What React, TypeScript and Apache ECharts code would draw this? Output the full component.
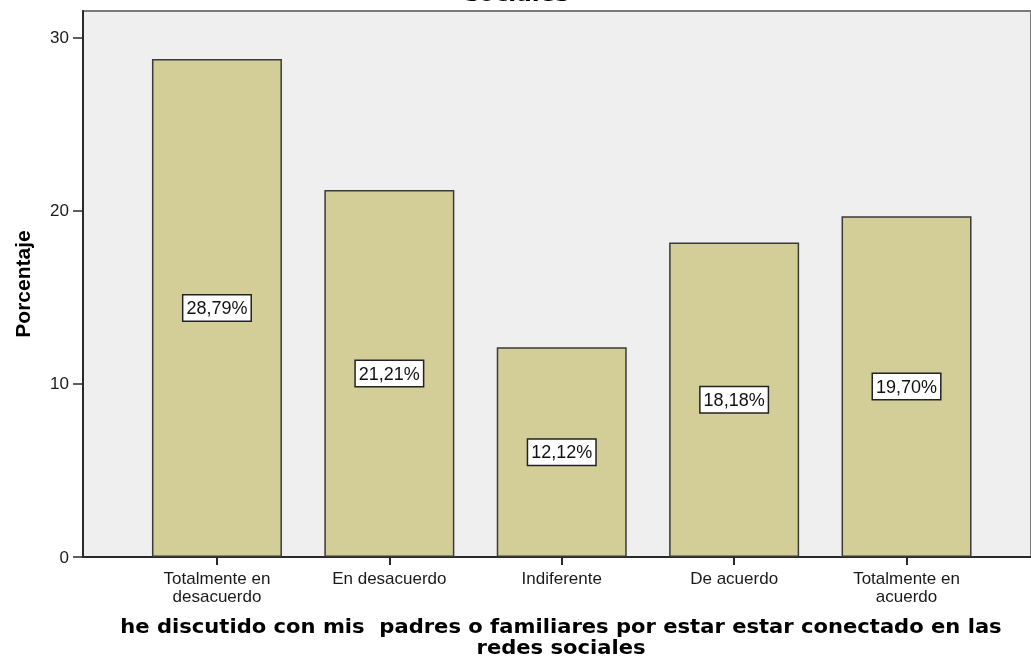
import React, { useEffect, useRef } from "react";
import * as echarts from "echarts";

const categories = [
  "Totalmente en\ndesacuerdo",
  "En desacuerdo",
  "Indiferente",
  "De acuerdo",
  "Totalmente en\nacuerdo",
];
const percentages = [28.79, 21.21, 12.12, 18.18, 19.7];
const yTicks = [0, 10, 20, 30];
const xTitle = "he discutido con mis  padres o familiares por estar estar conectado en las\nredes sociales";
const yTitle = "Porcentaje";
const topTitleTail = "sociales";

export default function App() {
  const ref = useRef<HTMLDivElement>(null);
  useEffect(() => {
    if (!ref.current) return;
    const chart = echarts.init(ref.current, null, { renderer: "svg" });
    const positions = categories.map((_, i) => i + 1);
    chart.setOption({
      animation: false,
      grid: {
        left: 83,
        top: 11,
        right: -3,
        bottom: 103,
        show: true,
        backgroundColor: "#EFEFEF",
        borderColor: "#7a7a7a",
        borderWidth: 2,
      },
      xAxis: {
        type: "value",
        min: 0.223,
        max: 5.722,
        splitLine: { show: false },
        axisLine: { show: true, lineStyle: { color: "#2a2a2a", width: 2 } },
        axisTick: {
          show: true,
          customValues: positions,
          length: 8,
          lineStyle: { color: "#2a2a2a", width: 2 },
        },
        axisLabel: {
          customValues: positions,
          formatter: (v: number) => categories[Math.round(v) - 1] ?? "",
          color: "#1a1a1a",
          fontFamily: "Liberation Sans",
          fontSize: 17,
          lineHeight: 18,
          margin: 12,
        },
      },
      yAxis: {
        type: "value",
        min: 0,
        max: 31.56,
        splitLine: { show: false },
        axisLine: { show: true, lineStyle: { color: "#2a2a2a", width: 2 } },
        axisTick: {
          show: true,
          customValues: yTicks,
          length: 10,
          lineStyle: { color: "#2a2a2a", width: 1.5 },
        },
        axisLabel: {
          customValues: yTicks,
          color: "#1a1a1a",
          fontFamily: "Liberation Sans",
          fontSize: 17,
          margin: 14,
        },
      },
      series: [
        {
          type: "bar",
          data: percentages.map((v, i) => [i + 1, v]),
          barWidth: 130,
          itemStyle: {
            color: "#D3CE97",
            borderColor: "#3a3a3a",
            borderWidth: 1.5,
          },
          label: {
            show: true,
            position: "inside",
            formatter: (p: any) => p.value[1].toFixed(2).replace(".", ",") + "%",
            backgroundColor: "#ffffff",
            borderColor: "#222222",
            borderWidth: 1.5,
            padding: [4, 3, 3, 3],
            color: "#111111",
            fontFamily: "Liberation Sans",
            fontSize: 18,
          },
        },
      ],
      graphic: [
        {
          type: "text",
          x: 22,
          y: 284,
          rotation: Math.PI / 2,
          style: {
            text: yTitle,
            fontFamily: "Liberation Sans",
            fontWeight: "bold",
            fontSize: 21,
            fill: "#000",
            align: "center",
            verticalAlign: "middle",
          },
        },
        {
          type: "text",
          x: 561,
          y: 616,
          scaleX: 1.11,
          style: {
            text: xTitle,
            fontFamily: "DejaVu Sans",
            fontWeight: "bold",
            fontSize: 19,
            lineHeight: 21,
            fill: "#000",
            align: "center",
            verticalAlign: "top",
          },
        },
        {
          type: "text",
          x: 517,
          y: 4.4,
          scaleX: 1.15,
          style: {
            text: topTitleTail,
            fontFamily: "DejaVu Sans",
            fontWeight: "bold",
            fontSize: 20,
            fill: "#000",
            align: "center",
            verticalAlign: "bottom",
          },
        },
      ],
    });
    return () => chart.dispose();
  }, []);
  return (
    <div
      ref={ref}
      style={{ position: "fixed", left: 0, top: 0, width: 1031, height: 660 }}
    />
  );
}
